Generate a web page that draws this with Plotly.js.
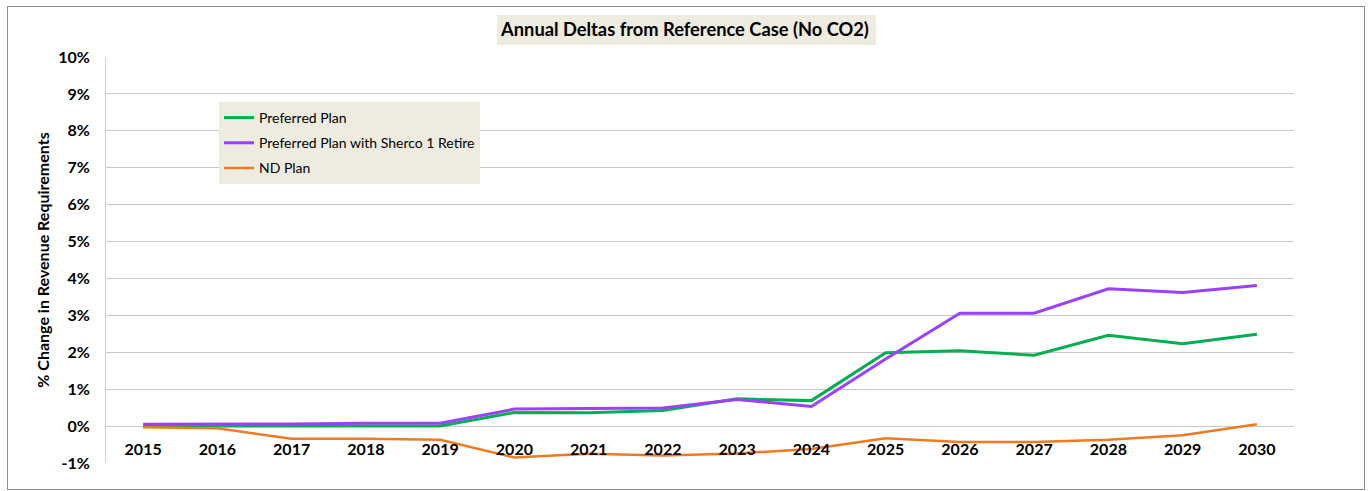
<!DOCTYPE html>
<html>
<head>
<meta charset="utf-8">
<script src="https://cdn.plot.ly/plotly-3.0.1.min.js"></script>
<style>
html,body{margin:0;padding:0;background:#fff;}
#frame{position:absolute;left:7px;top:6px;width:1356px;height:482px;border:1px solid #8c8c8c;}
#chart{position:absolute;left:0;top:0;width:1370px;height:491px;}
</style>
</head>
<body>
<div id="frame"></div>
<div id="chart"></div>
<script>
const years = ['2015','2016','2017','2018','2019','2020','2021','2022','2023','2024','2025','2026','2027','2028','2029','2030'];
const preferredPlan = [0.00,0.00,0.00,0.00,0.00,0.37,0.36,0.42,0.74,0.69,1.99,2.04,1.92,2.46,2.23,2.49];
const shercoRetire = [0.05,0.05,0.06,0.08,0.08,0.46,0.47,0.49,0.72,0.53,1.82,3.06,3.06,3.72,3.62,3.81];
const ndPlan = [-0.03,-0.06,-0.34,-0.34,-0.37,-0.85,-0.75,-0.80,-0.74,-0.62,-0.33,-0.43,-0.43,-0.37,-0.25,0.05];
const yTicks = [-1,0,1,2,3,4,5,6,7,8,9,10];
const seriesNames = ['Preferred Plan','Preferred Plan with Sherco 1 Retire','ND Plan'];

const FONT = 'Lato, "Open Sans", sans-serif';
const traces = [
  {x: years, y: preferredPlan, name: seriesNames[0], legendgroup:'a', mode:'lines', line:{color:'#00B050', width:3}},
  {x: years, y: shercoRetire, name: seriesNames[1], legendgroup:'b', mode:'lines', line:{color:'#9B40FF', width:3}},
  {x: years, y: ndPlan, name: seriesNames[2], legendgroup:'c', mode:'lines', line:{color:'#EE7A22', width:2.5}}
];
const layout = {
  width:1370, height:491,
  paper_bgcolor:'rgba(0,0,0,0)', plot_bgcolor:'rgba(0,0,0,0)',
  margin:{l:106, r:76, t:57, b:28},
  font:{family:FONT, color:'#000'},
  title:{text:'Annual Deltas from Reference Case (No CO2)', font:{family:FONT, size:18.3, color:'#000', weight:'bold'},
         x:0.5, xref:'container', xanchor:'center', y:1-30/491, yref:'container', yanchor:'middle'},
  shapes:[{type:'rect', xref:'paper', yref:'paper', x0:(497-106)/1188, x1:(876-106)/1188, y0:1+12/406, y1:1+42/406,
           fillcolor:'#EEECE1', line:{width:0}, layer:'below'}],
  xaxis:{type:'category', range:[-0.5,15.5], showgrid:false, zeroline:false, showline:false,
         anchor:'free', position:1/11, ticks:'outside', ticklen:9, tickcolor:'rgba(0,0,0,0)',
         tickfont:{family:FONT, size:16, weight:'bold', color:'#000'}},
  yaxis:{range:[-1,10], tickvals:yTicks, ticktext:yTicks.map(v=>v+'%'), showgrid:true, gridcolor:'#c8c8c8', gridwidth:1,
         zeroline:false, showline:true, linecolor:'#d0d0d0', linewidth:1, ticks:'outside', ticklen:12, tickcolor:'rgba(0,0,0,0)',
         tickfont:{family:FONT, size:16, weight:'bold', color:'#000'},
         title:{text:'% Change in Revenue Requirements', font:{family:FONT, size:16, weight:'bold', color:'#000'}, standoff:4}},
  legend:{x:(219-106)/1188, y:(463-102)/406, xanchor:'left', yanchor:'top', bgcolor:'#EEECE1', borderwidth:0,
          font:{family:FONT, size:14, color:'#000'}, traceorder:'grouped', tracegroupgap:4, itemwidth:30},
  showlegend:true
};
Plotly.newPlot('chart', traces, layout, {displayModeBar:false, staticPlot:true});
</script>
</body>
</html>
